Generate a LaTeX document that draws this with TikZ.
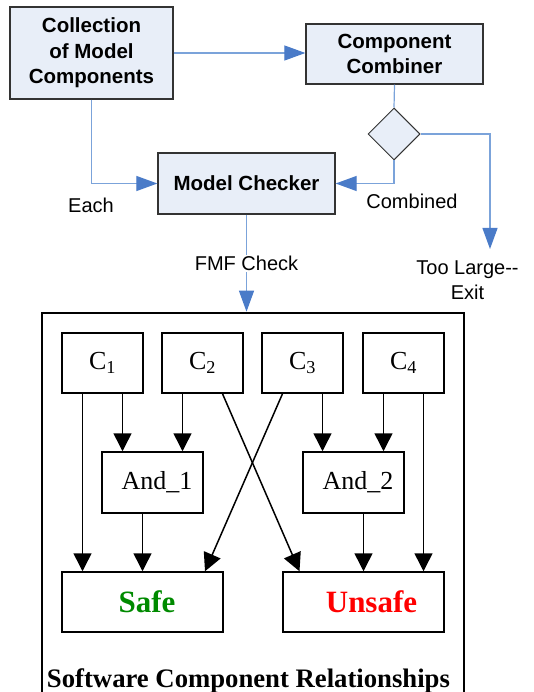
\documentclass[tikz,border=0pt]{standalone}
\usepackage{fontspec}
\setmainfont{Liberation Serif}
\setsansfont{Liberation Sans}
\usetikzlibrary{arrows.meta,shapes.geometric}

\definecolor{boxfill}{HTML}{E8EEF8}
\definecolor{linkblue}{HTML}{7BA3DA}
\definecolor{tipblue}{HTML}{4A7BC8}
\definecolor{boxedge}{HTML}{333333}
\definecolor{safegreen}{HTML}{008A00}

\tikzset{
  flowbox/.style={draw=boxedge, line width=1.3pt, fill=boxfill, inner sep=0pt,
    align=center, font=\sffamily\bfseries\fontsize{20.5}{25.5}\selectfont},
  decision/.style={diamond, draw=boxedge, line width=1pt, fill=boxfill, inner sep=0pt,
    minimum width=52pt, minimum height=52pt},
  link/.style={draw=linkblue, line width=1.2pt},
  flow/.style={link, -{Triangle[length=21pt,width=15pt,color=tipblue]}},
  labeltext/.style={inner sep=1pt, font=\sffamily\fontsize{20}{25}\selectfont},
  logicbox/.style={draw, line width=1.5pt, inner sep=0pt, font=\fontsize{26}{30}\selectfont},
  blackarrow/.style={line width=1.5pt, -{Triangle[length=18pt,width=18pt]}}
}

\begin{document}
\begin{tikzpicture}[x=1pt,y=-1pt]
  \useasboundingbox (0,0) rectangle (534,692);

  % Upper flow chart boxes
  \node[flowbox, minimum width=163pt, minimum height=92pt] (coll) at (91.5,53) {Collection\\of Model\\Components};
  \node[flowbox, minimum width=177pt, minimum height=60pt] (comb) at (394.5,54) {Component\\Combiner};
  \node[flowbox, minimum width=177pt, minimum height=61pt] (check) at (246.5,183.5) {Model Checker};
  \node[decision] (dec) at (394,134) {};
  \coordinate (exit) at (490,249);

  % Outer frame round the relationships
  \node[draw, line width=2.6pt, minimum width=422pt, minimum height=392pt, inner sep=0pt] (scr) at (253,509) {};

  % Blue connectors of the flow chart
  \draw[flow] (coll.east) -- (coll.east -| comb.west);
  \draw[flow] (coll.south) |- (check.west);
  \draw[link] (comb.south) -- (dec.north);
  \draw[flow] (dec.south) |- (check.east);
  \draw[flow] (dec.east) -| (exit);
  \draw[flow] (check.south) -- (check.south |- scr.north)
    node[midway, fill=white, labeltext] (fmf) {FMF Check};

  % Labels next to the connectors
  \node[labeltext] (each) at (91,205) {Each};
  \node[labeltext] (cmbd) at (412,201) {Combined};
  \node[labeltext, align=center] (large) at (467.5,280.5) {Too Large{-}{-}\\Exit};

  % Components C1 to C4
  \foreach \i/\x in {1/102.5, 2/202.5, 3/302.5, 4/403.5} {
    \node[logicbox, minimum width=81pt, minimum height=60pt] (c\i) at (\x,363) {C\textsubscript{\i}};
    \coordinate (l\i) at ([xshift=-20pt]c\i.south);
    \coordinate (r\i) at ([xshift=20pt]c\i.south);
  }

  % And gates and results
  \node[logicbox, minimum width=101pt, minimum height=61pt] (and1) at (152.5,482.5) {\hspace*{9pt}And\_1};
  \node[logicbox, minimum width=101pt, minimum height=61pt] (and2) at (353.5,482.5) {\hspace*{9pt}And\_2};
  \node[logicbox, minimum width=161pt, minimum height=60pt, text=safegreen,
    font=\bfseries\fontsize{31}{36}\selectfont] (safe) at (142.5,602) {\hspace*{9pt}Safe};
  \node[logicbox, minimum width=161pt, minimum height=60pt, text=red,
    font=\bfseries\fontsize{31}{36}\selectfont] (unsafe) at (363.5,602) {\hspace*{16pt}Unsafe};

  % Black arrows between components
  \draw[blackarrow] (l1) -- (l1 |- safe.north);
  \draw[blackarrow] (r1) -- (r1 |- and1.north);
  \draw[blackarrow] (l2) -- (l2 |- and1.north);
  \draw[blackarrow] (r2) -- ([xshift=-64pt]unsafe.north);
  \draw[blackarrow] (l3) -- ([xshift=62.5pt]safe.north);
  \draw[blackarrow] (r3) -- (r3 |- and2.north);
  \draw[blackarrow] (l4) -- (l4 |- and2.north);
  \draw[blackarrow] (r4) -- (r4 |- unsafe.north);
  \draw[blackarrow] (safe.north |- and1.south) -- (safe.north);
  \draw[blackarrow] (unsafe.north |- and2.south) -- (unsafe.north);

  \node[anchor=base, inner sep=0pt, font=\bfseries\fontsize{26.7}{30}\selectfont] (title) at (248.5,687) {Software Component Relationships};
\end{tikzpicture}
\end{document}
